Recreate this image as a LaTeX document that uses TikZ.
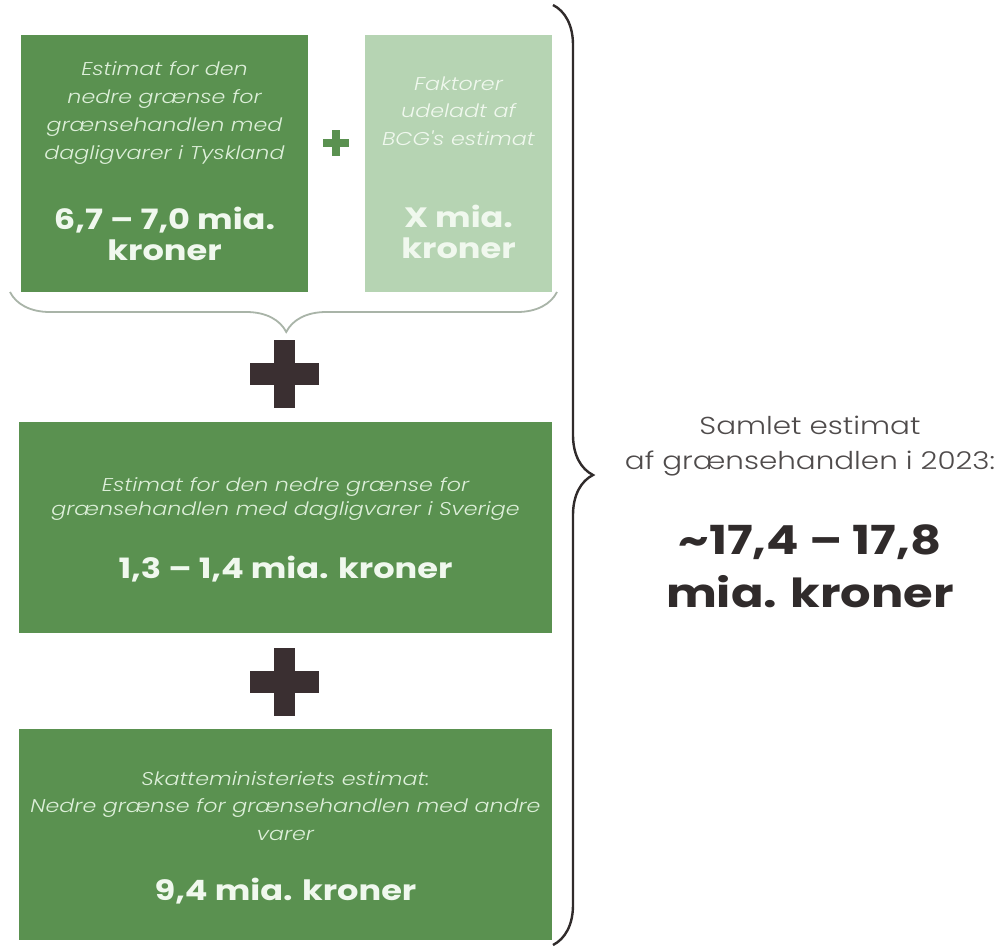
\documentclass[tikz,border=0pt]{standalone}
\usepackage{fontspec}
\setmainfont{Poppins}
\newfontfamily\wf[FakeStretch=1.2]{Poppins}
\newfontfamily\wl[FakeStretch=1.2]{Poppins Light}
\newfontfamily\wli[FakeStretch=1.2]{Poppins Light Italic}
\usetikzlibrary{decorations.pathreplacing}
\definecolor{dg}{HTML}{5A9150}
\definecolor{lg}{HTML}{B6D4B3}
\definecolor{tw}{HTML}{F0F8EE}
\definecolor{ti}{HTML}{DDEFD9}
\definecolor{dk}{HTML}{3A2F31}
\definecolor{br}{HTML}{A9B4A8}
\definecolor{tg}{HTML}{4F4B4B}
\definecolor{tb}{HTML}{302B2B}
\tikzset{
  box/.style={fill=#1, draw=none, inner sep=0pt},
  itxt/.style={text=ti, align=center, font=\wli\fontsize{18.5}{#1}\selectfont, inner sep=0pt},
  btxt/.style={text=tw, align=center, font=\wf\fontsize{28}{31}\selectfont\bfseries, inner sep=0pt},
}
\begin{document}
\begin{tikzpicture}[x=1pt,y=-1pt]
\useasboundingbox (0,0) rectangle (1002,948);
\fill[white] (0,0) rectangle (1002,948);

% boxes
\node[box=dg, minimum width=287, minimum height=257] (a) at (164.5,163.5) {};
\node[box=lg, minimum width=187, minimum height=257] (b) at (458.5,163.5) {};
\node[box=dg, minimum width=533, minimum height=211] (c) at (285.5,527.5) {};
\node[box=dg, minimum width=533, minimum height=211] (d) at (285.5,834.5) {};

% texts
\node[itxt=28] (a1) at (164.5,113) {Estimat for den\\nedre grænse for\\grænsehandlen med\\dagligvarer i Tyskland};
\node[btxt] (a2) at (164.5,234) {6,7 – 7,0 mia.\\kroner};
\node[itxt=27.5, text=tw] (b1) at (458.5,111) {Faktorer\\udeladt af\\BCG's estimat};
\node[btxt] (b2) at (458.5,232) {X mia.\\kroner};
\node[itxt=24.5] (c1) at (285.5,499) {Estimat for den nedre grænse for\\grænsehandlen med dagligvarer i Sverige};
\node[btxt] (c2) at (285.5,569) {1,3 – 1,4 mia. kroner};
\node[itxt=27.5] (d1) at (285.5,806) {Skatteministeriets estimat:\\Nedre grænse for grænsehandlen med andre\\varer};
\node[btxt] (d2) at (285.5,891) {9,4 mia. kroner};

% small green plus
\coordinate (gp) at (336,143);
\fill[dg] ([xshift=-13pt,yshift=4pt]gp) rectangle ([xshift=13pt,yshift=-4pt]gp);
\fill[dg] ([xshift=-4pt,yshift=13pt]gp) rectangle ([xshift=4pt,yshift=-13pt]gp);

% dark plus signs
\foreach \n/\y in {p1/374, p2/682}{
  \coordinate (\n) at (284,\y);
  \fill[dk] ([xshift=-34.5pt,yshift=11pt]\n) rectangle ([xshift=34.5pt,yshift=-11pt]\n);
  \fill[dk] ([xshift=-10.5pt,yshift=34pt]\n) rectangle ([xshift=10.5pt,yshift=-34pt]\n);
}

% small brace under the top boxes
\coordinate (s1) at (10,292);
\coordinate (s2) at (557,292);
\draw[br, line width=1.8pt, decorate, decoration={brace, amplitude=40pt, mirror, aspect=0.505}] (s1) -- (s2);

% big brace on the right
\coordinate (t1) at (553,5);
\coordinate (t2) at (553,945);
\draw[tb, decorate, decoration={brace, amplitude=40pt, aspect=0.5}, line width=2.4pt] (t1) -- (t2);

% total
\node[text=tg, align=center, font=\wl\fontsize{24.5}{35}\selectfont, inner sep=0pt] (tot1) at (810,446) {Samlet estimat\\af grænsehandlen i 2023:};
\node[text=tb, align=center, font=\wf\fontsize{40}{53}\selectfont\bfseries, inner sep=0pt] (tot2) at (810,566) {\textasciitilde17,4 – 17,8\\mia. kroner};
\end{tikzpicture}
\end{document}
